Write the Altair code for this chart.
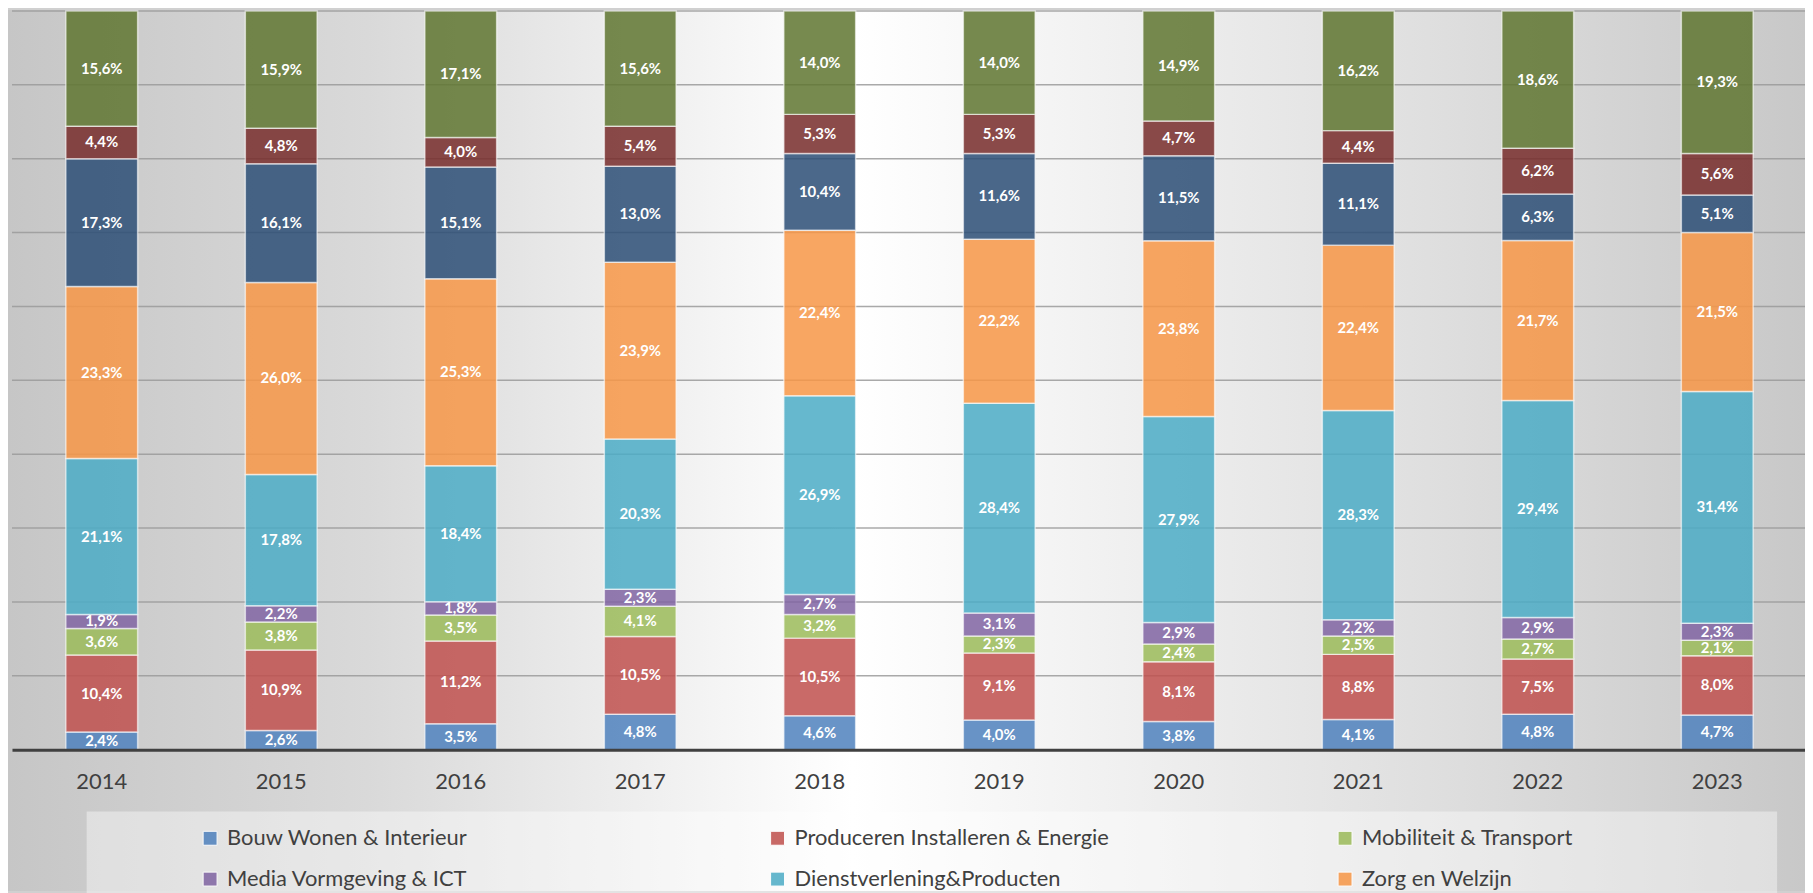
import altair as alt
import pandas as pd

# ---------------- data ----------------
years = ["2014", "2015", "2016", "2017", "2018", "2019", "2020", "2021", "2022", "2023"]

series = [
    "Bouw Wonen & Interieur",
    "Produceren Installeren & Energie",
    "Mobiliteit & Transport",
    "Media Vormgeving & ICT",
    "Dienstverlening&Producten",
    "Zorg en Welzijn",
    "Economie & Administratie",
    "Handel & Ondernemerschap",
    "Techniek & Procesindustrie",
]
colors = ["#4F81BD", "#C0504D", "#9BBB59", "#8064A2", "#4BACC6",
          "#F79646", "#2C4D75", "#772C2A", "#5F7530"]

bouw = [2.4, 2.6, 3.5, 4.8, 4.6, 4.0, 3.8, 4.1, 4.8, 4.7]
produceren = [10.4, 10.9, 11.2, 10.5, 10.5, 9.1, 8.1, 8.8, 7.5, 8.0]
mobiliteit = [3.6, 3.8, 3.5, 4.1, 3.2, 2.3, 2.4, 2.5, 2.7, 2.1]
media = [1.9, 2.2, 1.8, 2.3, 2.7, 3.1, 2.9, 2.2, 2.9, 2.3]
dienst = [21.1, 17.8, 18.4, 20.3, 26.9, 28.4, 27.9, 28.3, 29.4, 31.4]
zorg = [23.3, 26.0, 25.3, 23.9, 22.4, 22.2, 23.8, 22.4, 21.7, 21.5]
serie7 = [17.3, 16.1, 15.1, 13.0, 10.4, 11.6, 11.5, 11.1, 6.3, 5.1]
serie8 = [4.4, 4.8, 4.0, 5.4, 5.3, 5.3, 4.7, 4.4, 6.2, 5.6]
serie9 = [15.6, 15.9, 17.1, 15.6, 14.0, 14.0, 14.9, 16.2, 18.6, 19.3]

grid_levels = [0.1, 0.2, 0.3, 0.4, 0.5, 0.6, 0.7, 0.8, 0.9, 1.0]

values = [bouw, produceren, mobiliteit, media, dienst, zorg, serie7, serie8, serie9]
rows = []
for k, (name, vals) in enumerate(zip(series, values)):
    for y, v in zip(years, vals):
        rows.append({"year": y, "series": name, "order": k, "value": v})
df = pd.DataFrame(rows)

# ---------------- layout ----------------
W, H = 1801, 742
FONT = "Lato"
TEXT = "#404040"

xscale = alt.Scale(domain=years, range=[0, 1803], paddingInner=0.6, paddingOuter=0.3)
yscale = alt.Scale(domain=[0, 1], nice=False, zero=True)
xaxis = alt.Axis(title=None, ticks=False, tickSize=0, labelPadding=22, labelFontSize=22,
                 labelFont=FONT, labelColor=TEXT, domainColor="#404040", domainWidth=3,
                 grid=False, labelAngle=0, zindex=1)

bg = alt.Chart(pd.DataFrame({"d": [0]})).mark_rect(
    color=alt.LinearGradient(
        gradient="linear", x1=0, x2=1, y1=0, y2=0,
        stops=[
            alt.GradientStop(offset=0, color="#c6c6c6"),
            alt.GradientStop(offset=0.2, color="#d9d9d9"),
            alt.GradientStop(offset=0.47, color="#ffffff"),
            alt.GradientStop(offset=0.8, color="#dedede"),
            alt.GradientStop(offset=1, color="#c8c8c8"),
        ],
    )
).encode(x=alt.value(-4), x2=alt.value(W), y=alt.value(-1), y2=alt.value(H + 142))

legbox = alt.Chart(pd.DataFrame({"d": [0]})).mark_rect(
    color="white", opacity=0.4
).encode(x=alt.value(75), x2=alt.value(1773), y=alt.value(804), y2=alt.value(H + 160))

rules = alt.Chart(pd.DataFrame({"g": grid_levels})).mark_rule(
    color="#9a9a9a", strokeWidth=1.5, opacity=0.85
).encode(y=alt.Y("g:Q", scale=yscale, axis=None))

base = alt.Chart(df).transform_stack(
    stack="value", groupby=["year"], as_=["y0", "y1"], offset="normalize",
    sort=[alt.SortField("order", "ascending")]
).transform_calculate(
    mid="(datum.y0 + datum.y1) / 2",
    label="replace(format(datum.value, '.1f'), '.', ',') + '%'"
)

bars = base.mark_bar(
    fillOpacity=0.85, stroke="white", strokeOpacity=0.6, strokeWidth=1.5
).encode(
    x=alt.X("year:N", scale=xscale, axis=xaxis),
    y=alt.Y("y0:Q", scale=yscale, axis=None),
    y2="y1:Q",
    color=alt.Color(
        "series:N",
        scale=alt.Scale(domain=series, range=colors),
        legend=alt.Legend(
            orient="none", legendX=188, legendY=820, columns=3, gridAlign="all",
            direction="horizontal",
            columnPadding=226, rowPadding=19, symbolType="square", symbolSize=196,
            symbolOpacity=0.85, symbolStrokeColor="white", symbolStrokeWidth=1,
            labelFont=FONT, labelFontSize=22, labelColor=TEXT, labelOffset=6,
            labelLimit=500, title=None, values=series[:6],
        ),
    ),
    order=alt.Order("order:Q"),
)

labels = base.mark_text(
    color="white", fontWeight="bold", font=FONT, fontSize=15, baseline="middle"
).encode(
    x=alt.X("year:N", scale=xscale, axis=xaxis),
    y=alt.Y("mid:Q", scale=yscale, axis=None),
    text="label:N",
)

chart = alt.layer(bg, legbox, rules, bars, labels).properties(
    width=W, height=H,
    padding={"left": 4, "top": 1, "right": 0, "bottom": 142},
    autosize=alt.AutoSizeParams(type="none"),
    background="#d0d0d0",
).configure_view(stroke=None).configure(font=FONT)

chart.save("out.html", embed_options={"renderer": "svg", "actions": False})
